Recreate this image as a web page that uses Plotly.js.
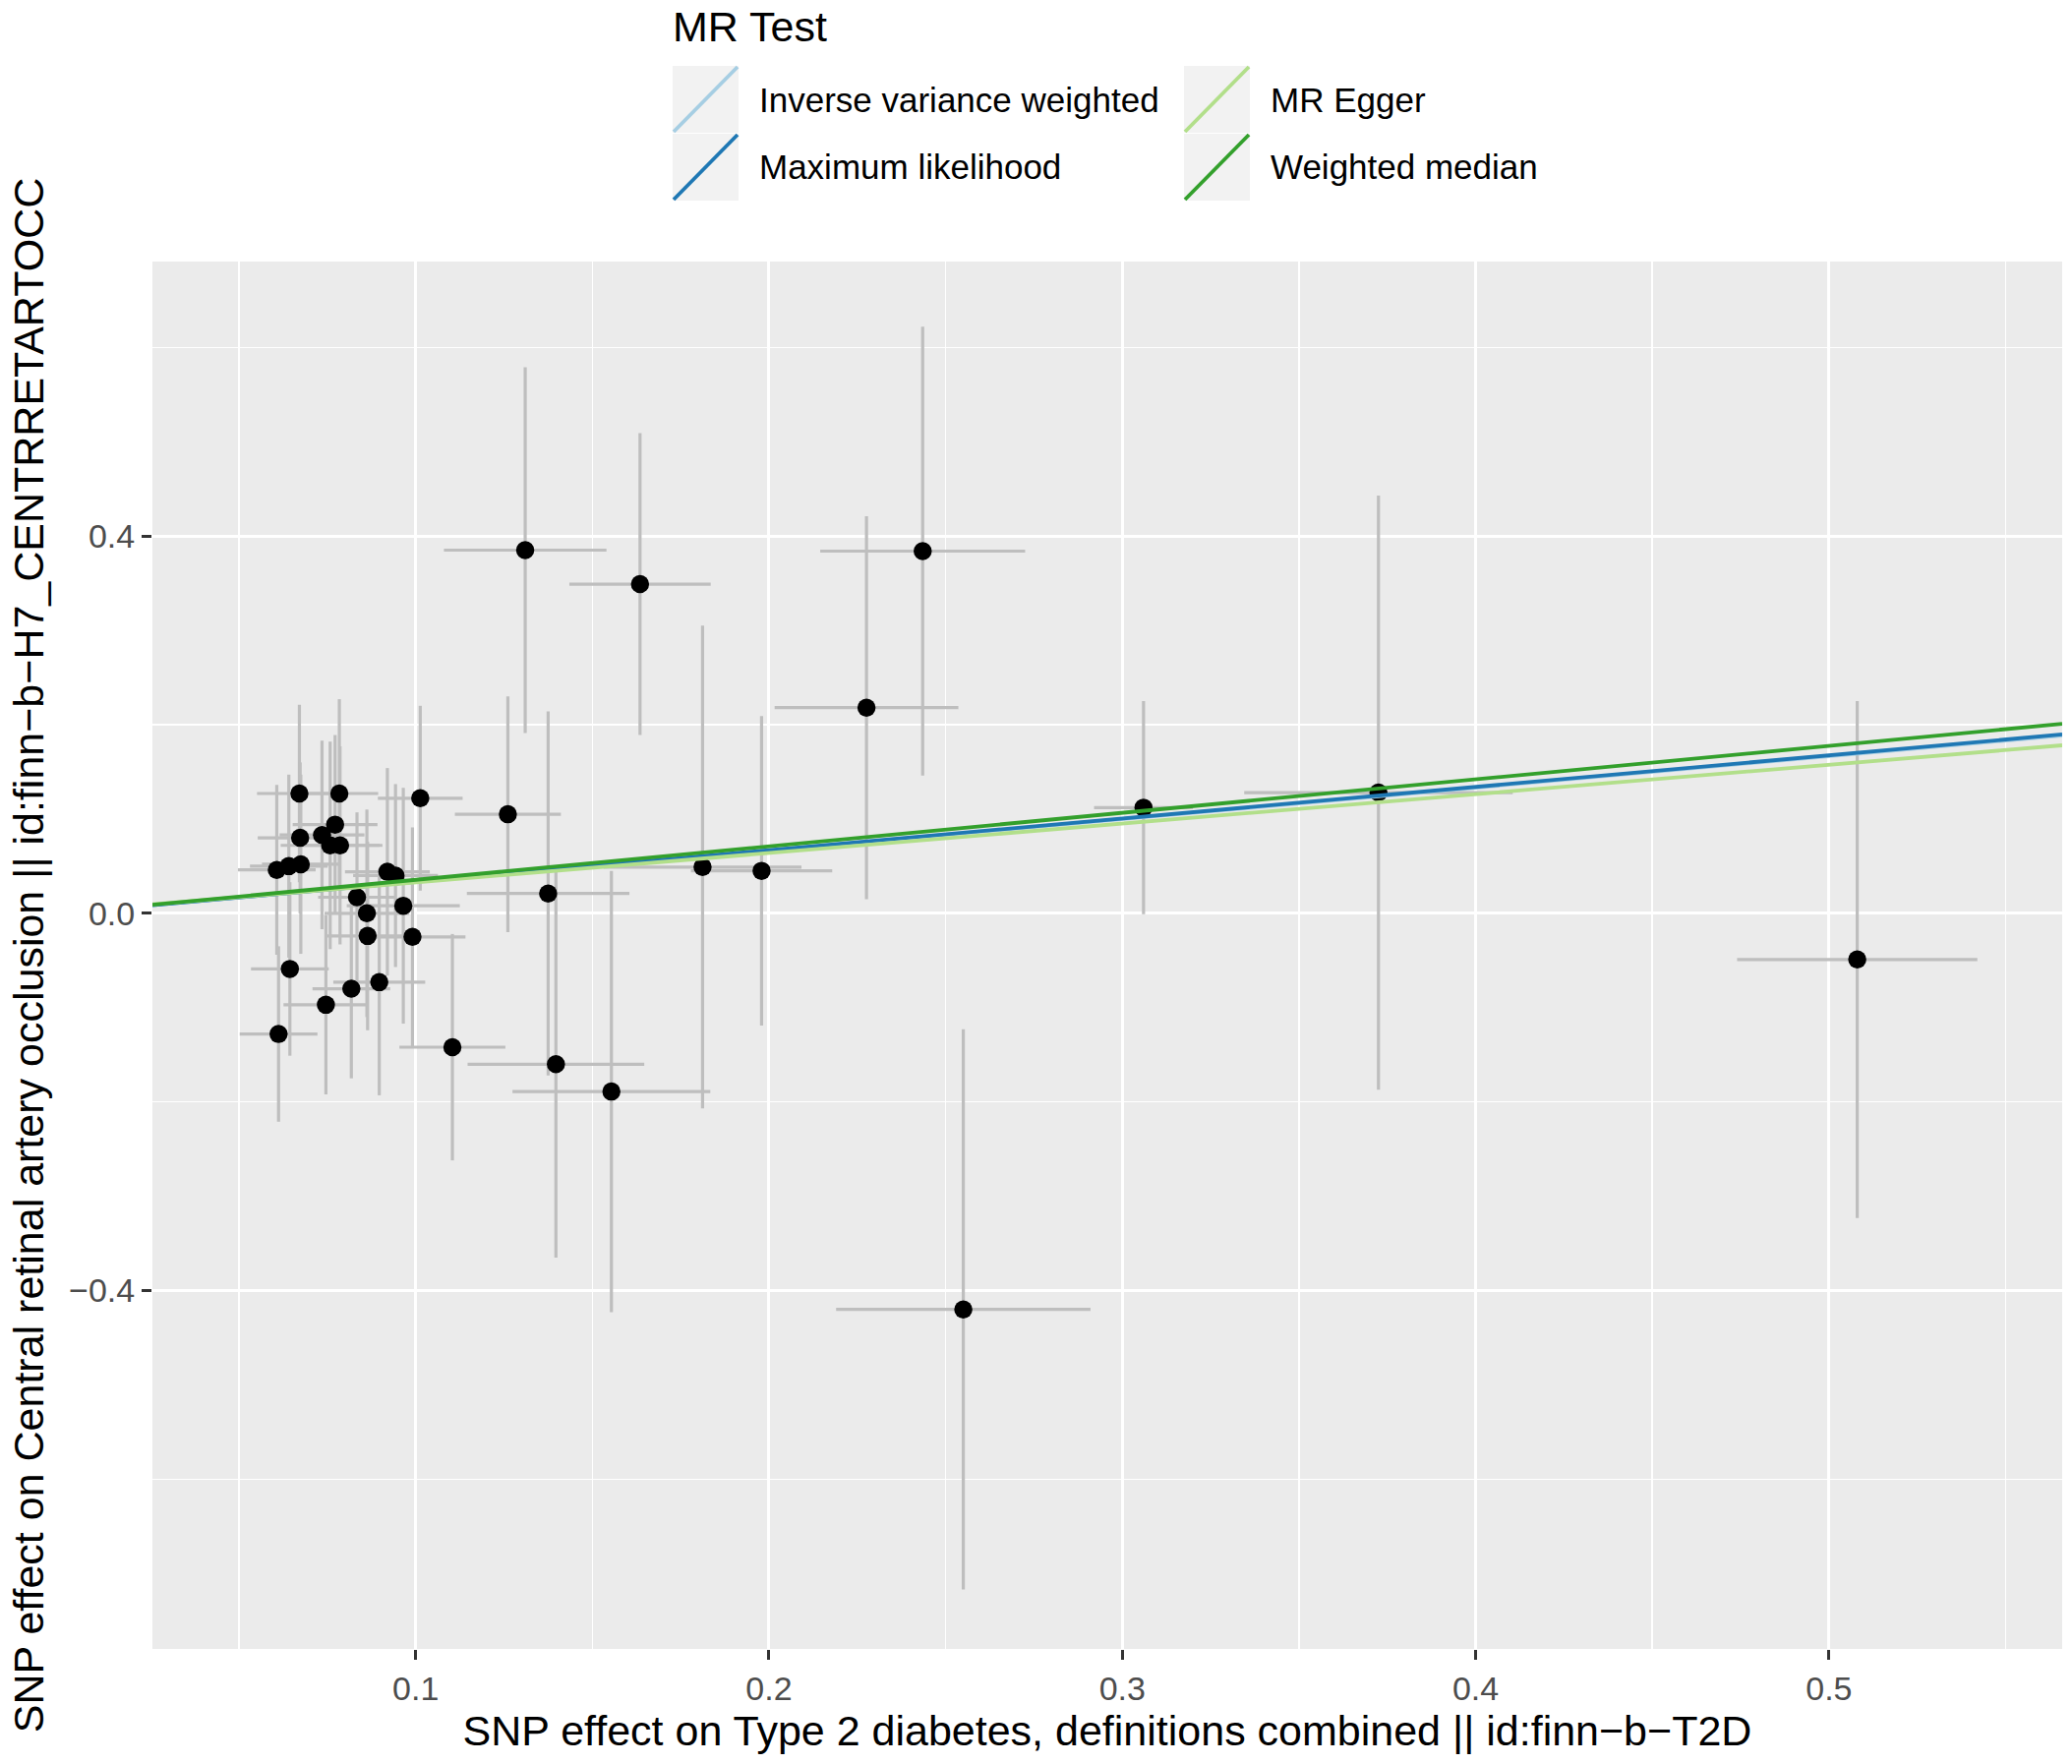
<!DOCTYPE html>
<html>
<head>
<meta charset="utf-8">
<script src="https://cdn.plot.ly/plotly-3.0.1.min.js"></script>
<style>
  html, body { margin: 0; padding: 0; background: #ffffff; }
  #plot { width: 2107px; height: 1794px; }
</style>
</head>
<body>
<div id="plot"></div>
<script>
// SNP effects: exposure (T2D) on x, outcome (CRAO) on y
var snp_x = [0.0671, 0.0784, 0.1013, 0.1261, 0.0772, 0.0673, 0.0735, 0.0758, 0.0786, 0.0607,
             0.0641, 0.0675, 0.0920, 0.0943, 0.0834, 0.0862, 0.0965, 0.0864, 0.0991, 0.0644,
             0.0897, 0.0818, 0.0746, 0.0612, 0.1104, 0.1375, 0.1397, 0.1554, 0.1812, 0.1979,
             0.1310, 0.1635, 0.2435, 0.2276, 0.3060, 0.3725, 0.5080, 0.2550];
var snp_y = [0.127, 0.127, 0.122, 0.105, 0.094, 0.080, 0.083, 0.072, 0.072, 0.046,
             0.050, 0.052, 0.044, 0.040, 0.017, 0.000, 0.008, -0.024, -0.025, -0.059,
             -0.073, -0.080, -0.097, -0.128, -0.142, 0.021, -0.160, -0.189, 0.049, 0.045,
             0.385, 0.349, 0.384, 0.218, 0.112, 0.128, -0.049, -0.420];
var se_x = [0.012, 0.011, 0.012, 0.015, 0.012, 0.012, 0.012, 0.014, 0.012, 0.011,
            0.011, 0.011, 0.012, 0.012, 0.011, 0.012, 0.016, 0.012, 0.015, 0.011,
            0.013, 0.011, 0.012, 0.011, 0.015, 0.023, 0.025, 0.028, 0.028, 0.020,
            0.023, 0.020, 0.029, 0.026, 0.014, 0.038, 0.034, 0.036];
var se_y = [0.094, 0.100, 0.098, 0.125, 0.095, 0.080, 0.100, 0.110, 0.105, 0.090,
            0.097, 0.095, 0.110, 0.097, 0.090, 0.110, 0.125, 0.100, 0.116, 0.092,
            0.120, 0.095, 0.095, 0.093, 0.120, 0.193, 0.205, 0.234, 0.256, 0.164,
            0.194, 0.160, 0.238, 0.203, 0.113, 0.315, 0.274, 0.297];

// MR estimates drawn as ablines
var methods = ['Inverse variance weighted', 'Maximum likelihood', 'MR Egger', 'Weighted median'];
var method_colors = ['#a6cee3', '#1f78b4', '#b2df8a', '#33a02c'];
var intercepts = [0, 0, 0.0015, 0];
var slopes = [0.333, 0.335, 0.312, 0.355];

var x_range = [0.0255, 0.566];
var y_range = [-0.780, 0.691];
var x_ticks = [0.1, 0.2, 0.3, 0.4, 0.5];
var x_tick_labels = ['0.1', '0.2', '0.3', '0.4', '0.5'];
var y_ticks = [-0.4, 0.0, 0.4];
var y_tick_labels = ['\u22120.4', '0.0', '0.4'];

var FONT = 'Liberation Sans, Arial, Helvetica, sans-serif';

var data = [];

data.push({
  x: snp_x,
  y: snp_y,
  type: 'scatter',
  mode: 'markers',
  marker: { color: '#000000', size: 18.5 },
  error_x: { type: 'data', array: se_x, visible: true, color: '#bebebe', thickness: 3.2, width: 0 },
  error_y: { type: 'data', array: se_y, visible: true, color: '#bebebe', thickness: 3.2, width: 0 },
  showlegend: false,
  hoverinfo: 'x+y'
});

for (var i = 0; i < methods.length; i++) {
  data.push({
    x: x_range,
    y: x_range.map(function (v) { return intercepts[i] + slopes[i] * v; }),
    type: 'scatter',
    mode: 'lines',
    name: methods[i],
    line: { color: method_colors[i], width: 3.8 },
    showlegend: false
  });
}

// ggplot style legend above the panel, built from shapes + annotations
var L = 155, R = 2097, T = 266, B = 1677;
function px(xp) { return (xp - L) / (R - L); }
function py(yp) { return (B - yp) / (B - T); }

var shapes = [];
var annotations = [];

annotations.push({
  text: 'MR Test', xref: 'paper', yref: 'paper',
  x: px(682), y: py(27), xanchor: 'left', yanchor: 'middle',
  showarrow: false, font: { family: FONT, size: 43, color: '#000000' }
});

var key_left = [684, 684, 1204, 1204];
var key_top = [67, 136, 67, 136];
var key_w = 67, key_h = 68;
for (var k = 0; k < methods.length; k++) {
  var x0 = key_left[k], y0 = key_top[k];
  shapes.push({
    type: 'rect', xref: 'paper', yref: 'paper',
    x0: px(x0), x1: px(x0 + key_w), y0: py(y0), y1: py(y0 + key_h),
    fillcolor: '#f2f2f2', line: { width: 0 }, layer: 'above'
  });
  shapes.push({
    type: 'line', xref: 'paper', yref: 'paper',
    x0: px(x0 + 1), y0: py(y0 + key_h - 1), x1: px(x0 + key_w - 1), y1: py(y0 + 1),
    line: { color: method_colors[k], width: 3.8 }, layer: 'above'
  });
  annotations.push({
    text: methods[k], xref: 'paper', yref: 'paper',
    x: px(x0 + key_w + 19), y: py(y0 + key_h / 2), xanchor: 'left', yanchor: 'middle',
    showarrow: false, font: { family: FONT, size: 35, color: '#000000' }
  });
}

var layout = {
  width: 2107,
  height: 1794,
  margin: { l: L, r: 2107 - R, t: T, b: 1794 - B, pad: 0 },
  paper_bgcolor: '#ffffff',
  plot_bgcolor: '#ebebeb',
  font: { family: FONT, color: '#000000' },
  showlegend: false,
  xaxis: {
    range: x_range,
    tickvals: x_ticks,
    ticktext: x_tick_labels,
    ticks: 'outside', ticklen: 10, tickwidth: 3, tickcolor: '#333333',
    tickfont: { family: FONT, size: 34, color: '#4d4d4d' },
    showgrid: true, gridcolor: '#ffffff', gridwidth: 3,
    minor: { dtick: 0.05, tick0: 0, showgrid: true, gridcolor: '#ffffff', gridwidth: 1.5, ticks: '' },
    zeroline: false, showline: false,
    title: {
      text: 'SNP effect on Type 2 diabetes, definitions combined || id:finn\u2212b\u2212T2D',
      font: { family: FONT, size: 43, color: '#000000' },
      standoff: 6
    },
    automargin: false
  },
  yaxis: {
    range: y_range,
    tickvals: y_ticks,
    ticktext: y_tick_labels,
    ticks: 'outside', ticklen: 10, tickwidth: 3, tickcolor: '#333333',
    tickfont: { family: FONT, size: 34, color: '#4d4d4d' },
    showgrid: true, gridcolor: '#ffffff', gridwidth: 3,
    minor: { dtick: 0.2, tick0: 0, showgrid: true, gridcolor: '#ffffff', gridwidth: 1.5, ticks: '' },
    zeroline: false, showline: false,
    title: {
      text: 'SNP effect on Central retinal artery occlusion || id:finn\u2212b\u2212H7_CENTRRETARTOCC',
      font: { family: FONT, size: 43, color: '#000000' },
      standoff: 12
    },
    automargin: false
  },
  shapes: shapes,
  annotations: annotations
};

Plotly.newPlot('plot', data, layout, { staticPlot: true });
</script>
</body>
</html>
